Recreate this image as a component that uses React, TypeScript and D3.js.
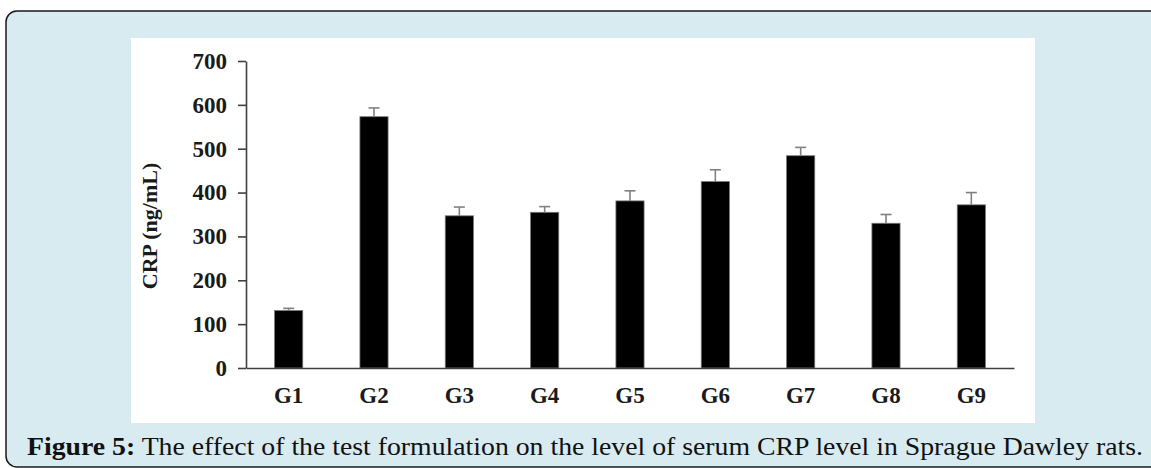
import React, { useEffect, useRef } from "react";
import * as d3 from "d3";

const groups = ["G1", "G2", "G3", "G4", "G5", "G6", "G7", "G8", "G9"];
const crpMeans = [131, 573, 347, 355, 381, 425, 484, 330, 372];
const crpErrors = [5, 20, 20, 13, 23, 27, 19, 20, 28];
const yTicks = [0, 100, 200, 300, 400, 500, 600, 700];

const captionBold = "Figure 5:";
const captionText =
  " The effect of the test formulation on the level of serum CRP level in Sprague Dawley rats.";

export default function App() {
  const svgRef = useRef<SVGSVGElement>(null);

  useEffect(() => {
    const svg = d3.select(svgRef.current);
    svg.selectAll("*").remove();

    const W = 1151;
    const H = 468;
    const serif = "'Liberation Serif', 'Times New Roman', serif";

    // outer panel with rounded border
    svg
      .append("rect")
      .attr("x", 6)
      .attr("y", 11)
      .attr("width", W + 20)
      .attr("height", H - 12)
      .attr("rx", 11)
      .attr("fill", "#d8ebf1")
      .attr("stroke", "#1a1a1a")
      .attr("stroke-width", 1.5);

    // white plot area
    svg
      .append("rect")
      .attr("x", 131)
      .attr("y", 38)
      .attr("width", 904)
      .attr("height", 385)
      .attr("fill", "#ffffff");

    const x = d3
      .scaleBand()
      .domain(groups)
      .range([246, 1014])
      .paddingInner(0.67)
      .paddingOuter(0.335);

    const y = d3.scaleLinear().domain([0, 700]).range([368, 61]);

    const g = svg.append("g");

    // bars
    g.selectAll(".bar")
      .data(groups)
      .enter()
      .append("rect")
      .attr("class", "bar")
      .attr("x", (d) => x(d)!)
      .attr("y", (d, i) => y(crpMeans[i]))
      .attr("width", x.bandwidth())
      .attr("height", (d, i) => y(0) - y(crpMeans[i]))
      .attr("fill", "#000000")
      .attr("stroke", "#777777")
      .attr("stroke-width", 0.8);

    // error bars (upper only)
    const errs = g
      .selectAll(".err")
      .data(groups)
      .enter()
      .append("g")
      .attr("class", "err")
      .attr("stroke", "#808080")
      .attr("stroke-width", 1.6);

    errs
      .append("line")
      .attr("x1", (d) => x(d)! + x.bandwidth() / 2)
      .attr("x2", (d) => x(d)! + x.bandwidth() / 2)
      .attr("y1", (d, i) => y(crpMeans[i]))
      .attr("y2", (d, i) => y(crpMeans[i] + crpErrors[i]));

    errs
      .append("line")
      .attr("x1", (d) => x(d)! + x.bandwidth() / 2 - 5.5)
      .attr("x2", (d) => x(d)! + x.bandwidth() / 2 + 5.5)
      .attr("y1", (d, i) => y(crpMeans[i] + crpErrors[i]))
      .attr("y2", (d, i) => y(crpMeans[i] + crpErrors[i]));

    // y axis
    const yAxis = g
      .append("g")
      .attr("transform", "translate(246,0)")
      .call(
        d3
          .axisLeft(y)
          .tickValues(yTicks)
          .tickSize(8)
          .tickSizeOuter(0)
          .tickPadding(11)
      );
    yAxis.select(".domain").attr("stroke", "#404040").attr("stroke-width", 1.6);
    yAxis.selectAll(".tick line").attr("stroke", "#404040").attr("stroke-width", 1.6);
    yAxis
      .selectAll(".tick text")
      .attr("fill", "#1a1a1a")
      .style("font-family", serif)
      .style("font-weight", "bold")
      .style("font-size", "23px");

    // x axis
    const xAxis = g
      .append("g")
      .attr("transform", "translate(0,368)")
      .call(d3.axisBottom(x).tickSize(0).tickSizeOuter(0).tickPadding(19));
    xAxis.select(".domain").attr("stroke", "#404040").attr("stroke-width", 1.6);
    xAxis
      .selectAll(".tick text")
      .attr("fill", "#1a1a1a")
      .style("font-family", serif)
      .style("font-weight", "bold")
      .style("font-size", "23px");

    // y axis title
    svg
      .append("text")
      .attr("transform", "translate(157,226) rotate(-90)")
      .attr("text-anchor", "middle")
      .attr("fill", "#1a1a1a")
      .style("font-family", serif)
      .style("font-weight", "bold")
      .style("font-size", "22px")
      .text("CRP (ng/mL)");

    // caption
    const cap = svg
      .append("text")
      .attr("x", 27)
      .attr("y", 455)
      .attr("textLength", 1116)
      .attr("lengthAdjust", "spacingAndGlyphs")
      .attr("fill", "#111111")
      .style("font-family", serif)
      .style("font-size", "25px");
    cap.append("tspan").style("font-weight", "bold").text(captionBold);
    cap.append("tspan").text(captionText);
  }, []);

  return (
    <svg
      ref={svgRef}
      width={1151}
      height={468}
      style={{ position: "absolute", left: 0, top: 0, background: "#ffffff" }}
    ></svg>
  );
}
